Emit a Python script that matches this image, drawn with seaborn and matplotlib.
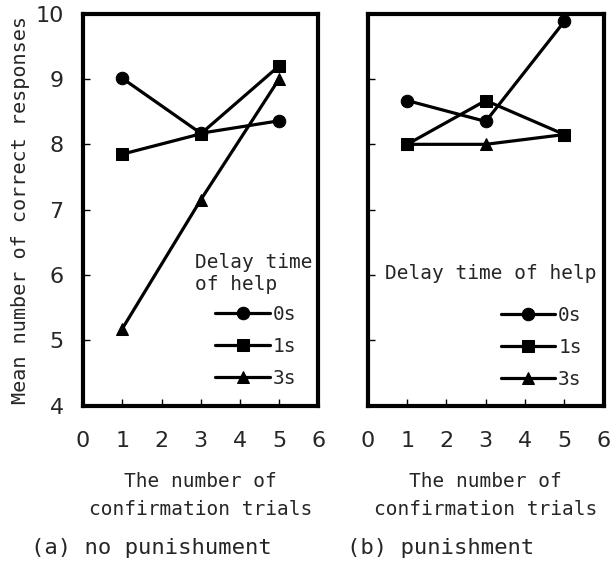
import pandas as pd
import seaborn as sns
import matplotlib.pyplot as plt

sns.set_style("white")
plt.rcParams["font.family"] = ["DejaVu Sans Mono", "DejaVu Sans"]

trials = [1, 3, 5]
delays = ["0s", "1s", "3s"]

# (a) no punishment
a_0s = [9.01, 8.17, 8.36]
a_1s = [7.85, 8.16, 9.20]
a_3s = [5.18, 7.15, 9.00]

# (b) punishment
b_0s = [8.67, 8.35, 9.88]
b_1s = [8.00, 8.67, 8.15]
b_3s = [8.00, 8.00, 8.15]

y_ticks = [4, 5, 6, 7, 8, 9, 10]
x_ticks = [0, 1, 2, 3, 4, 5, 6]


def long_df(series):
    rows = []
    for d, vals in zip(delays, series):
        for t, v in zip(trials, vals):
            rows.append({"trials": t, "score": v, "delay": d})
    return pd.DataFrame(rows)


df_a = long_df([a_0s, a_1s, a_3s])
df_b = long_df([b_0s, b_1s, b_3s])

markers = {"0s": "o", "1s": "s", "3s": "^"}
palette = {"0s": "black", "1s": "black", "3s": "black"}

fig = plt.figure(figsize=(6.11, 5.66), dpi=100)
ax1 = fig.add_axes([0.136, 0.283, 0.385, 0.693])
ax2 = fig.add_axes([0.602, 0.283, 0.386, 0.693])

tick_font = {"family": "DejaVu Sans", "size": 16}

for ax, df in [(ax1, df_a), (ax2, df_b)]:
    sns.lineplot(data=df, x="trials", y="score", hue="delay", style="delay",
                 markers=markers, dashes=False, palette=palette,
                 lw=2.3, markersize=9, markeredgecolor="black", ax=ax)
    ax.set_xlim(0, 6)
    ax.set_ylim(4, 10)
    ax.set_xticks(x_ticks)
    ax.set_yticks(y_ticks)
    ax.tick_params(direction="in", length=5, width=1, color="black",
                   bottom=True, left=True)
    ax.tick_params(axis="x", pad=18)
    ax.tick_params(axis="y", pad=14)
    for s in ax.spines.values():
        s.set_linewidth(3)
        s.set_color("black")
    ax.set_xticklabels([str(t) for t in x_ticks], fontdict=tick_font)
    ax.set_xlabel("The number of\nconfirmation trials", fontsize=14, labelpad=15,
                  linespacing=1.6)
    ax.set_ylabel("")

ax1.set_yticklabels([str(t) for t in y_ticks], fontdict=tick_font)
ax2.set_yticklabels([])
ax1.set_ylabel("Mean number of correct responses", fontsize=14.5, labelpad=4)

leg_kw = dict(loc="upper right", frameon=False, fontsize=14, handlelength=2.8,
              handletextpad=0.15, labelspacing=0.68, borderaxespad=0, borderpad=0)

ax1.text(0.477, 0.39, "Delay time\nof help", transform=ax1.transAxes,
         fontsize=14, ha="left", va="top", linespacing=1.2)
h, l = ax1.get_legend_handles_labels()
ax1.legend(h, l, bbox_to_anchor=(0.906, 0.258), **leg_kw)

ax2.text(0.072, 0.337, "Delay time of help", transform=ax2.transAxes,
         fontsize=14, ha="left", va="center")
h, l = ax2.get_legend_handles_labels()
ax2.legend(h, l, bbox_to_anchor=(0.907, 0.255), **leg_kw)

fig.text(0.05, 0.032, "(a) no punishument", fontsize=16, va="center")
fig.text(0.568, 0.032, "(b) punishment", fontsize=16, va="center")

fig.savefig("out.png", dpi=100)
